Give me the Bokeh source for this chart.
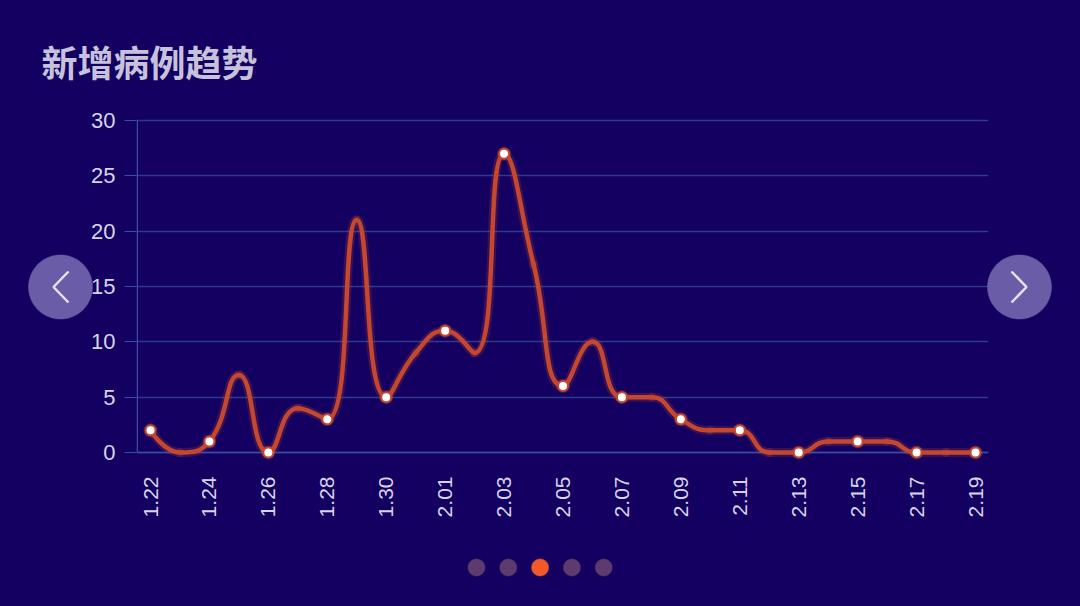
import math
from bokeh.plotting import figure
from bokeh.models import Range1d, FixedTicker
from bokeh.embed import file_html
from bokeh.resources import INLINE

# ---------------- data ----------------
dates = ["1.22", "1.23", "1.24", "1.25", "1.26", "1.27", "1.28", "1.29", "1.30", "1.31",
         "2.01", "2.02", "2.03", "2.04", "2.05", "2.06", "2.07", "2.08", "2.09", "2.10",
         "2.11", "2.12", "2.13", "2.14", "2.15", "2.16", "2.17", "2.18", "2.19"]
new_cases = [2, 0, 1, 7, 0, 4, 3, 21, 5, 9,
             11, 9, 27, 17, 6, 10, 5, 5, 3, 2,
             2, 0, 0, 1, 1, 1, 0, 0, 0]
y_ticks = [0, 5, 10, 15, 20, 25, 30]
title_text = "新增病例趋势"
page_count = 5
active_page = 2

# ---------------- styling / geometry ----------------
W, H = 1080, 606
BG = "#140060"
GRID = "#2c3a8e"
AXIS = "#3a4ba6"
LINE = "#c4472f"
LABEL = "#d6d4ea"
TITLE = "#c6c2dc"

F_LEFT, F_RIGHT, F_TOP, F_BOTTOM = 136, 988, 112, 461
X0_PX, XN_PX = 150, 975
Y0_PX, YTOP_PX = 452, 120
n = len(dates)
kx = (XN_PX - X0_PX) / (n - 1)
ky = (Y0_PX - YTOP_PX) / 30.0


def dx(px):
    return (px - X0_PX) / kx


def dy(py):
    return (Y0_PX - py) / ky


xs = list(range(n))

p = figure(width=W, height=H, output_backend="svg", toolbar_location=None,
           title=title_text,
           x_range=Range1d(dx(F_LEFT), dx(F_RIGHT)),
           y_range=Range1d(dy(F_BOTTOM), dy(F_TOP)),
           min_border_left=F_LEFT, min_border_right=W - F_RIGHT,
           min_border_top=F_TOP, min_border_bottom=H - F_BOTTOM,
           background_fill_color=None, border_fill_color=BG)
p.outline_line_color = None
p.styles = {"background-color": BG}

# title
p.title.text_color = TITLE
p.title.text_font = "Noto Sans CJK SC"
p.title.text_font_style = "bold"
p.title.text_font_size = "36px"
p.title.align = "left"
p.title.offset = 41 - F_LEFT
p.title.standoff = 52

# axes
p.xaxis.ticker = FixedTicker(ticks=xs[::2])
p.xaxis.major_label_overrides = {i: dates[i] for i in xs[::2]}
p.xaxis.major_label_orientation = math.pi / 2
p.xaxis.axis_line_color = None
p.xaxis.major_tick_line_color = None
p.xaxis.minor_tick_line_color = None
p.xaxis.major_label_text_color = LABEL
p.xaxis.major_label_text_font = "Liberation Sans"
p.xaxis.major_label_text_font_size = "21px"
p.xaxis.major_label_standoff = 9

p.yaxis.ticker = FixedTicker(ticks=y_ticks)
p.yaxis.axis_line_color = None
p.yaxis.major_tick_line_color = AXIS
p.yaxis.major_tick_out = 12
p.yaxis.major_tick_in = 0
p.yaxis.minor_tick_line_color = None
p.yaxis.major_label_text_color = LABEL
p.yaxis.major_label_text_font = "Liberation Sans"
p.yaxis.major_label_text_font_size = "22px"
p.yaxis.major_label_standoff = 9

p.xgrid.grid_line_color = None
p.ygrid.grid_line_color = GRID
p.ygrid.grid_line_width = 1.3

# axis lines
p.segment(x0=[dx(F_LEFT + 0.75)], y0=[0], x1=[dx(F_LEFT + 0.75)], y1=[30],
          line_color=AXIS, line_width=1.5)
p.segment(x0=[dx(F_LEFT)], y0=[0], x1=[dx(F_RIGHT)], y1=[0],
          line_color=AXIS, line_width=1.5)

# ---------------- smooth curve (ECharts-style bezier, smooth=0.5) ----------------
pts = [(x * kx, v * ky) for x, v in zip(xs, new_cases)]
smooth = 0.5
bx0, by0, bx1, by1, c0x, c0y, c1x, c1y = [], [], [], [], [], [], [], []
cpx0, cpy0 = pts[0]
prev = pts[0]
for i in range(1, n):
    x, y = pts[i]
    px_, py_ = prev
    if i == n - 1:
        ncx, ncy = x, y
        cpx1, cpy1 = x, y
    else:
        nx, ny = pts[i + 1]
        vx, vy = nx - px_, ny - py_
        lp = math.hypot(x - px_, y - py_)
        ln = math.hypot(nx - x, ny - y)
        r = ln / (ln + lp)
        cpx1 = x + vx * smooth * r
        cpy1 = y + vy * smooth * r
        cpx1 = max(min(cpx1, max(nx, x)), min(nx, x))
        cpy1 = max(min(cpy1, max(ny, y)), min(ny, y))
        vx, vy = cpx1 - x, cpy1 - y
        ncx = x - vx * lp / ln
        ncy = y - vy * lp / ln
        ncx = max(min(ncx, max(px_, x)), min(px_, x))
        ncy = max(min(ncy, max(py_, y)), min(py_, y))
        vx, vy = x - ncx, y - ncy
        cpx1 = x + vx * ln / lp
        cpy1 = y + vy * ln / lp
    bx0.append(px_ / kx); by0.append(py_ / ky)
    bx1.append(x / kx); by1.append(y / ky)
    c0x.append(cpx0 / kx); c0y.append(cpy0 / ky)
    c1x.append(ncx / kx); c1y.append(ncy / ky)
    cpx0, cpy0 = cpx1, cpy1
    prev = (x, y)

p.bezier(x0=bx0, y0=by0, x1=bx1, y1=by1, cx0=c0x, cy0=c0y, cx1=c1x, cy1=c1y,
         line_color=LINE, line_width=9, line_alpha=0.22, line_cap="round")
p.bezier(x0=bx0, y0=by0, x1=bx1, y1=by1, cx0=c0x, cy0=c0y, cx1=c1x, cy1=c1y,
         line_color=LINE, line_width=4.5, line_cap="round")

p.scatter(xs[::2], new_cases[::2], size=14, fill_color=LINE, fill_alpha=0.35,
          line_color=None)
p.scatter(xs[::2], new_cases[::2], size=10, fill_color="white",
          line_color=LINE, line_width=2)


# ---------------- decorations (outside frame) ----------------
def disc(cx_px, cy_px, r_px, color):
    seg = 72
    px = [cx_px + r_px * math.cos(2 * math.pi * k / seg) for k in range(seg)]
    py = [cy_px + r_px * math.sin(2 * math.pi * k / seg) for k in range(seg)]
    p.patch([dx(v) for v in px], [dy(v) for v in py], fill_color=color,
            line_color=color, line_width=0.5, level="overlay")


disc(60, 286.5, 32, "#6a5ca6")
disc(1019, 286.5, 32, "#6a5ca6")
p.line([dx(68), dx(53), dx(68)], [dy(271), dy(286.5), dy(302)],
       line_color="#e6e2f4", line_width=2.5, level="overlay")
p.line([dx(1011), dx(1026), dx(1011)], [dy(271), dy(286.5), dy(302)],
       line_color="#e6e2f4", line_width=2.5, level="overlay")

for k in range(page_count):
    disc(476 + 31.8 * k, 567, 8.5, "#f2592a" if k == active_page else "#5d3b6e")

open("out.html", "w").write(file_html(p, INLINE))
